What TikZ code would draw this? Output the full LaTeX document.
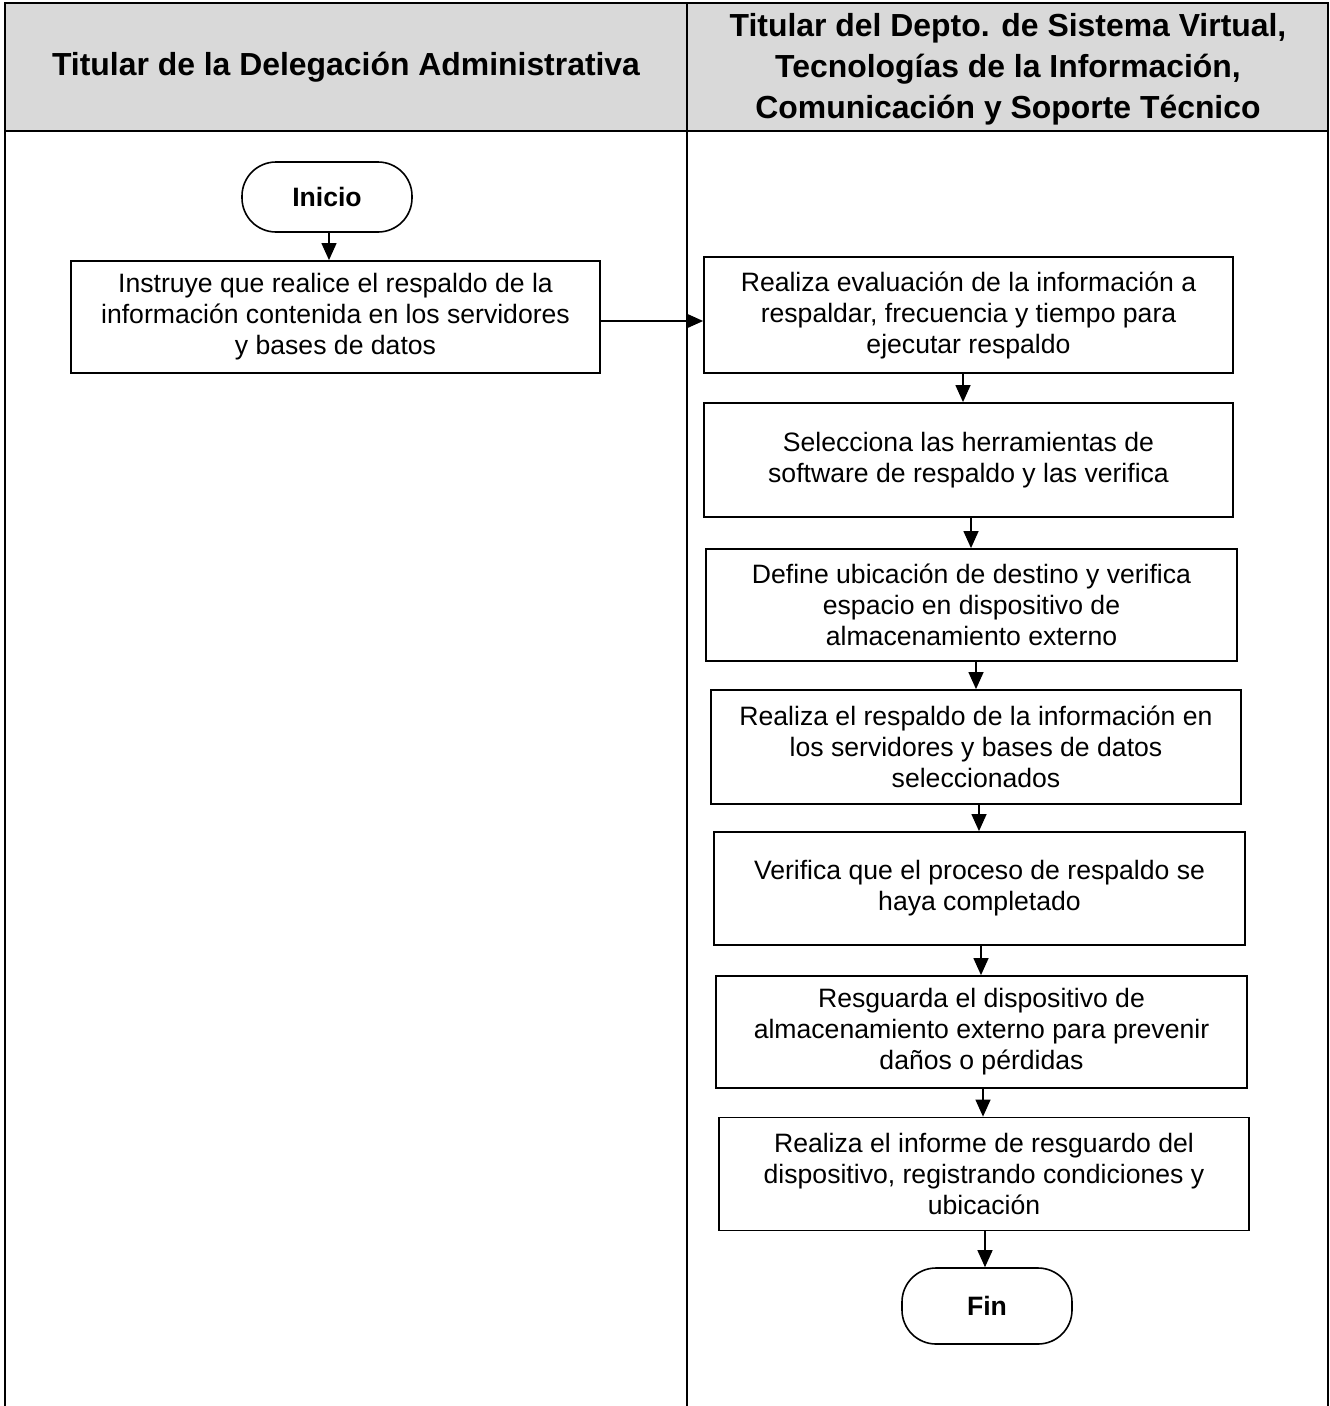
\documentclass[tikz,border=0pt]{standalone}
\usepackage{fontspec}
\setmainfont{Liberation Sans}
\usetikzlibrary{arrows.meta}
\definecolor{hdrgray}{HTML}{D9D9D9}
\tikzset{
  frame/.style={line width=2.6pt, draw=black},
  stepbox/.style={draw=black, line width=1.8pt, fill=white, align=center,
    font=\fontsize{26.6}{31}\selectfont, inner sep=0pt},
  term/.style={draw=black, line width=1.6pt, fill=white, rounded corners=34pt,
    font=\fontsize{26.6}{31}\selectfont\bfseries, inner sep=0pt},
  hdrtext/.style={align=center, font=\fontsize{31.9}{41}\selectfont\bfseries},
  flow/.style={line width=1.3pt, -{Triangle[length=17pt,width=15pt]}}
}
\begin{document}
\begin{tikzpicture}[x=1pt,y=-1pt]
\useasboundingbox (0,0) rectangle (1330,1406);
% lanes
\draw[frame, fill=hdrgray] (5,3) rectangle (1328,131);
\draw[frame] (5,131) -- (5,1410);
\draw[frame] (687,3) -- (687,1410);
\draw[frame] (1328,131) -- (1328,1410);
\node[hdrtext] (h1) at (346,67) {Titular de la Delegación Administrativa};
\node[hdrtext] (h2) at (1008,69) {Titular del Depto. de Sistema Virtual,\\Tecnologías de la Información,\\Comunicación y Soporte Técnico};
% nodes
\node[term, minimum width=170pt, minimum height=70pt] (ini) at (327,197) {Inicio};
\node[stepbox, minimum width=529pt, minimum height=112pt] (b1) at (335.5,317) {Instruye que realice el respaldo de la\\información contenida en los servidores\\y bases de datos};
\node[stepbox, minimum width=529pt, minimum height=116pt] (b2) at (968.5,315) {Realiza evaluación de la información a\\respaldar, frecuencia y tiempo para\\ejecutar respaldo};
\node[stepbox, minimum width=529pt, minimum height=114pt] (b3) at (968.5,460) {Selecciona las herramientas de\\software de respaldo y las verifica};
\node[stepbox, minimum width=531pt, minimum height=112pt] (b4) at (971.5,605) {Define ubicación de destino y verifica\\espacio en dispositivo de\\almacenamiento externo};
\node[stepbox, minimum width=530pt, minimum height=114pt] (b5) at (976,747) {Realiza el respaldo de la información en\\los servidores y bases de datos\\seleccionados};
\node[stepbox, minimum width=531pt, minimum height=113pt] (b6) at (979.5,888.5) {Verifica que el proceso de respaldo se\\haya completado};
\node[stepbox, minimum width=531pt, minimum height=112pt] (b7) at (981.5,1032) {Resguarda el dispositivo de\\almacenamiento externo para prevenir\\daños o pérdidas};
\node[stepbox, minimum width=530pt, minimum height=113pt] (b8) at (984,1174) {Realiza el informe de resguardo del\\dispositivo, registrando condiciones y\\ubicación};
\node[term, minimum width=170pt, minimum height=76pt] (fin) at (987,1306) {Fin};
% connectors
\draw[flow] (ini.south -| 329,0) -- (b1.north -| 329,0);
\draw[flow] (b1.east |- 0,321) -- (b2.west |- 0,321);
\draw[flow] (b2.south -| 963,0) -- (b3.north -| 963,0);
\draw[flow] (b3.south -| 971,0) -- (b4.north -| 971,0);
\draw[flow] (b4.south -| 976,0) -- (b5.north -| 976,0);
\draw[flow] (b5.south -| 979,0) -- (b6.north -| 979,0);
\draw[flow] (b6.south -| 981,0) -- (b7.north -| 981,0);
\draw[flow] (b7.south -| 983,0) -- (b8.north -| 983,0);
\draw[flow] (b8.south -| 985,0) -- (fin.north -| 985,0);
\end{tikzpicture}
\end{document}
